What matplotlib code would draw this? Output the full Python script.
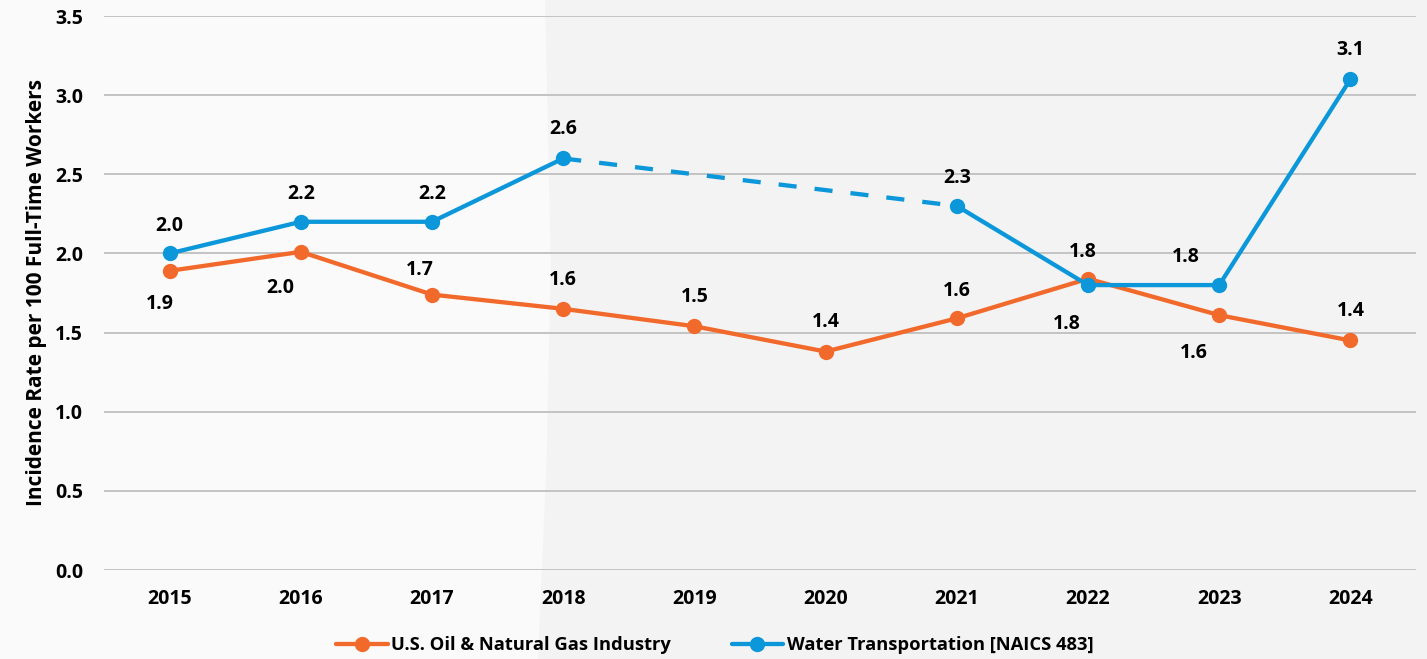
import numpy as np
import matplotlib.pyplot as plt
from matplotlib.patches import Polygon

years = ["2015", "2016", "2017", "2018", "2019", "2020", "2021", "2022", "2023", "2024"]

# U.S. Oil & Natural Gas Industry
oil_gas = [1.89, 2.01, 1.74, 1.65, 1.54, 1.38, 1.59, 1.84, 1.61, 1.45]
oil_gas_labels = ["1.9", "2.0", "1.7", "1.6", "1.5", "1.4", "1.6", "1.8", "1.6", "1.4"]

# Water Transportation [NAICS 483] (2019-2020 missing, bridged by dashed line)
water = [2.0, 2.2, 2.2, 2.6, np.nan, np.nan, 2.3, 1.8, 1.8, 3.1]
water_labels = ["2.0", "2.2", "2.2", "2.6", "", "", "2.3", "1.8", "1.8", "3.1"]

# label offsets in points (style only)
oil_gas_offs = [(-7, -24), (-15, -26), (-9, 18), (0, 21), (0, 21), (0, 21), (0, 20), (-4, 19.5), (-18, -27), (0, 21)]
water_offs = [(0, 20), (0, 20), (0, 20), (0, 21), None, None, (0, 20), (-15, -28), (-24, 20), (0, 21)]

ORANGE = "#F26A2B"
BLUE = "#0B97D9"
FONT = "Open Sans"

plt.rcParams["font.family"] = [FONT, "DejaVu Sans"]

fig = plt.figure(figsize=(14.27, 6.59), dpi=100)
fig.patch.set_facecolor("#fafafa")

# light grey background panel on the right
bg = Polygon([(0.382, 1.0), (0.386, 0.6), (0.383, 0.3), (0.377, 0.0), (1.0, 0.0), (1.0, 1.0)],
             closed=True, transform=fig.transFigure, facecolor="#f3f3f3", edgecolor="none", zorder=-5)
fig.patches.append(bg)

ax = fig.add_axes([104 / 1427, 89 / 659, 1312 / 1427, 554 / 659])
ax.set_facecolor("none")
ax.set_zorder(1)

x = np.arange(len(years))

ax.plot(x, oil_gas, color=ORANGE, lw=3.1, marker="o", ms=10, label="U.S. Oil & Natural Gas Industry",
        zorder=3, solid_capstyle="round")
ax.plot(x, water, color=BLUE, lw=3.1, marker="o", ms=10, label="Water Transportation [NAICS 483]",
        zorder=4, solid_capstyle="round")
# dashed bridge over the missing years
ax.plot([x[3], x[6]], [water[3], water[6]], color=BLUE, lw=3.1, ls=(0, (4.2, 4.2)), zorder=4)


def put_labels(vals, labels, offs):
    for xi, v, lab, off in zip(x, vals, labels, offs):
        if off is None or np.isnan(v):
            continue
        ax.annotate(lab, (xi, v), xytext=off, textcoords="offset points",
                    ha="center", va="center", fontsize=14, fontweight="bold", color="black", zorder=6)


put_labels(oil_gas, oil_gas_labels, oil_gas_offs)
put_labels(water, water_labels, water_offs)

ax.set_xlim(-0.5, len(years) - 0.5)
ax.set_ylim(0, 3.5)
ax.set_yticks(np.arange(0, 3.51, 0.5))
ax.set_yticklabels([f"{v:.1f}" for v in np.arange(0, 3.51, 0.5)])
ax.set_xticks(x)
ax.set_xticklabels(years)
ax.grid(axis="y", color="#bfbfbf", lw=1.3, zorder=1)
ax.set_axisbelow(True)
for s in ax.spines.values():
    s.set_visible(False)
ax.tick_params(length=0, labelsize=14, pad=14)
ax.tick_params(axis="y", pad=15)
for t in ax.get_xticklabels() + ax.get_yticklabels():
    t.set_fontweight("bold")

ax.set_ylabel("Incidence Rate per 100 Full-Time Workers", fontsize=15, fontweight="bold", labelpad=6)

leg = fig.legend(loc="center", bbox_to_anchor=(0.501, 0.021), ncol=2, frameon=False,
                 fontsize=13.2, handlelength=2.8, columnspacing=3.3, handletextpad=0.2)
for t in leg.get_texts():
    t.set_fontweight("bold")

fig.savefig("out.png", dpi=100, facecolor=fig.get_facecolor())
